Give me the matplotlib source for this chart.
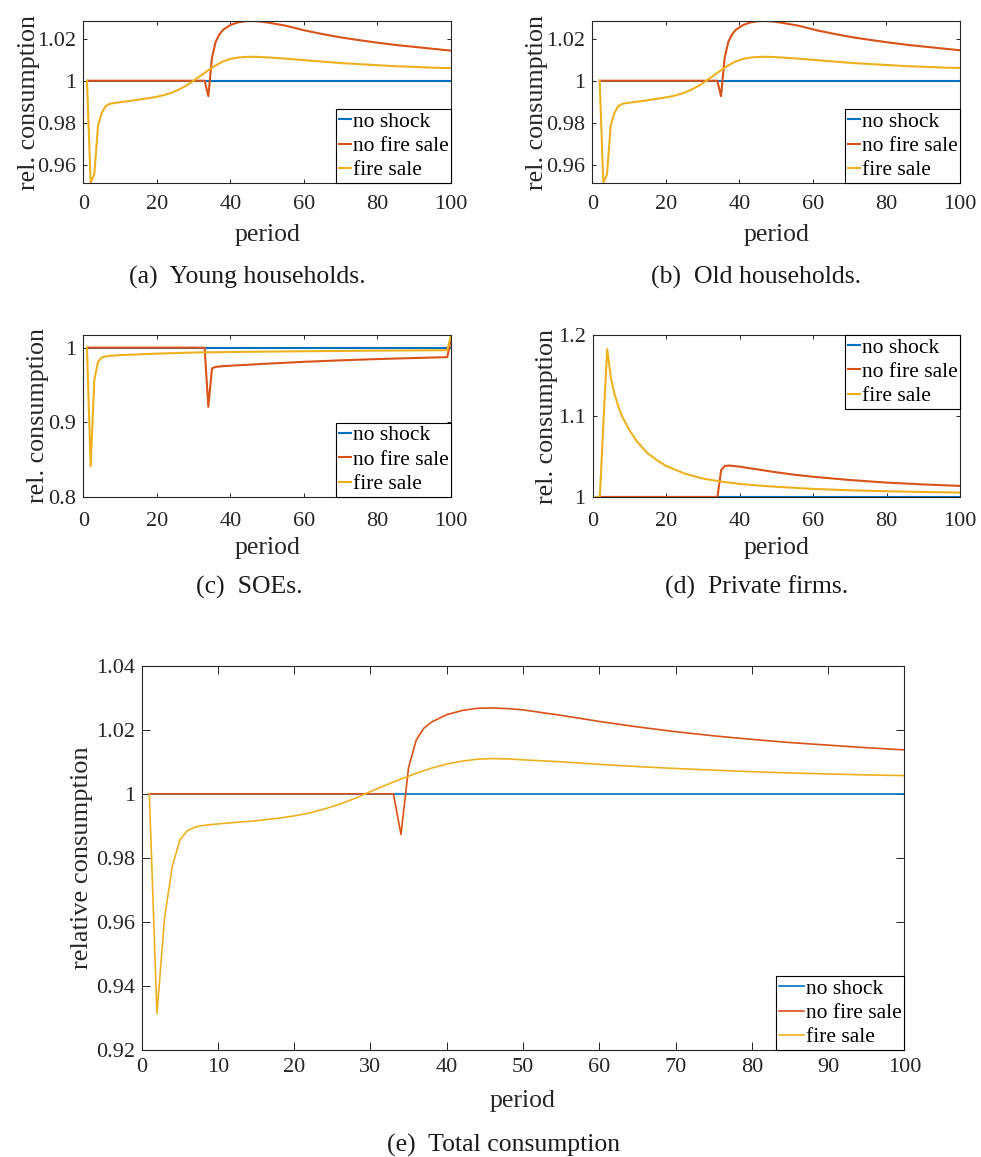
import matplotlib
matplotlib.use("Agg")
import matplotlib.pyplot as plt

W, H, DPI = 981, 1157, 100

BLUE = "#0072BD"
RED = "#D95319"
YELLOW = "#EDB120"
INK = "#262626"
SERIF = ["Liberation Serif", "DejaVu Serif"]

series_labels = ["no shock", "no fire sale", "fire sale"]

# ---- (a) young households ----
young_base_period = [1, 100]
young_base = [1.0, 1.0]
young_nfs_period = [1, 33, 34, 35, 36, 37, 38, 40, 42, 44, 46, 48, 50, 55, 60, 65, 70, 75, 80, 85, 90, 95, 100]
young_nfs = [1.0, 1.0, 0.9927, 1.0110, 1.0185, 1.0220, 1.0242, 1.0265, 1.0277, 1.0283, 1.0284, 1.0282, 1.0277,
             1.0262, 1.0240, 1.0222, 1.0206, 1.0193, 1.0181, 1.0170, 1.0161, 1.0152, 1.0143]
young_fs_period = [1, 2, 3, 4, 5, 6, 7, 8, 10, 12, 15, 18, 20, 22, 24, 26, 28, 30, 32, 34, 36, 38, 40, 42, 44, 46,
                   48, 50, 55, 60, 65, 70, 75, 80, 85, 90, 95, 100]
young_fs = [1.0, 0.9514, 0.9556, 0.9787, 0.9846, 0.9878, 0.9889, 0.9893, 0.9898, 0.9902, 0.9910, 0.9918, 0.9924,
            0.9932, 0.9943, 0.9958, 0.9977, 1.0000, 1.0025, 1.0050, 1.0073, 1.0092, 1.0104, 1.0110, 1.0113, 1.0114,
            1.0113, 1.0111, 1.0105, 1.0098, 1.0091, 1.0084, 1.0079, 1.0074, 1.0069, 1.0066, 1.0062, 1.0060]

# ---- (b) old households ----
old_base_period = [2, 100]
old_base = [1.0, 1.0]
old_nfs_period = [2, 34, 35, 36, 37, 38, 39, 41, 43, 45, 47, 49, 51, 56, 61, 66, 71, 76, 81, 86, 91, 96, 100]
old_nfs = [1.0, 1.0, 0.9927, 1.0110, 1.0185, 1.0220, 1.0242, 1.0265, 1.0277, 1.0283, 1.0284, 1.0282, 1.0277,
           1.0262, 1.0240, 1.0222, 1.0206, 1.0193, 1.0181, 1.0170, 1.0161, 1.0152, 1.0145]
old_fs_period = [2, 3, 4, 5, 6, 7, 8, 9, 11, 13, 16, 19, 21, 23, 25, 27, 29, 31, 33, 35, 37, 39, 41, 43, 45, 47,
                 49, 51, 56, 61, 66, 71, 76, 81, 86, 91, 96, 100]
old_fs = [1.0, 0.9514, 0.9556, 0.9787, 0.9846, 0.9878, 0.9889, 0.9893, 0.9898, 0.9902, 0.9910, 0.9918, 0.9924,
          0.9932, 0.9943, 0.9958, 0.9977, 1.0000, 1.0025, 1.0050, 1.0073, 1.0092, 1.0104, 1.0110, 1.0113, 1.0114,
          1.0113, 1.0111, 1.0105, 1.0098, 1.0091, 1.0084, 1.0079, 1.0074, 1.0069, 1.0066, 1.0062, 1.0061]

# ---- (c) SOEs ----
soe_base_period = [1, 100]
soe_base = [1.0, 1.0]
soe_nfs_period = [1, 33, 34, 35, 36, 38, 40, 50, 60, 70, 80, 90, 99, 100]
soe_nfs = [1.0, 1.0, 0.9207, 0.9722, 0.9742, 0.9752, 0.9758, 0.9785, 0.9810, 0.9830, 0.9847, 0.9861, 0.9873, 1.0120]
soe_fs_period = [1, 2, 3, 4, 5, 6, 7, 8, 10, 15, 20, 30, 40, 50, 60, 70, 80, 90, 99, 100]
soe_fs = [1.0, 0.8410, 0.9570, 0.9810, 0.9866, 0.9882, 0.9889, 0.9893, 0.9900, 0.9910, 0.9920, 0.9935, 0.9942,
          0.9947, 0.9952, 0.9956, 0.9960, 0.9963, 0.9966, 1.0170]

# ---- (d) private firms ----
pf_base_period = [1, 100]
pf_base = [1.0, 1.0]
pf_nfs_period = [1, 34, 35, 36, 37, 38, 40, 45, 50, 55, 60, 70, 80, 90, 100]
pf_nfs = [1.0, 1.0, 1.0330, 1.0383, 1.0388, 1.0385, 1.0375, 1.0340, 1.0305, 1.0275, 1.0250, 1.0210, 1.0178,
          1.0155, 1.0137]
pf_fs_period = [1, 2, 3, 4, 5, 6, 7, 8, 10, 12, 15, 18, 20, 25, 30, 35, 40, 45, 50, 60, 70, 80, 90, 100]
pf_fs = [1.0, 1.0, 1.0950, 1.1826, 1.1470, 1.1270, 1.1120, 1.1000, 1.0830, 1.0690, 1.0540, 1.0440, 1.0385,
         1.0290, 1.0228, 1.0190, 1.0162, 1.0142, 1.0126, 1.0100, 1.0083, 1.0071, 1.0062, 1.0055]

# ---- (e) total consumption ----
tot_base_period = [1, 100]
tot_base = [1.0, 1.0]
tot_nfs_period = [1, 33, 34, 35, 36, 37, 38, 40, 42, 44, 46, 48, 50, 55, 60, 65, 70, 75, 80, 85, 90, 95, 100]
tot_nfs = [1.0, 1.0, 0.9873, 1.0083, 1.0168, 1.0205, 1.0224, 1.0247, 1.0260, 1.0267, 1.0268, 1.0266, 1.0262,
           1.0245, 1.0226, 1.0209, 1.0194, 1.0181, 1.0170, 1.0160, 1.0152, 1.0144, 1.0137]
tot_fs_period = [1, 2, 3, 4, 5, 6, 7, 8, 10, 12, 15, 18, 20, 22, 24, 26, 28, 30, 32, 34, 36, 38, 40, 42, 44, 46,
                 48, 50, 55, 60, 65, 70, 75, 80, 85, 90, 95, 100]
tot_fs = [1.0, 0.9314, 0.9612, 0.9772, 0.9856, 0.9885, 0.9896, 0.9901, 0.9906, 0.9910, 0.9916, 0.9924, 0.9931,
          0.9940, 0.9953, 0.9968, 0.9986, 1.0007, 1.0027, 1.0046, 1.0064, 1.0080, 1.0093, 1.0102, 1.0108, 1.0110,
          1.0109, 1.0106, 1.0100, 1.0092, 1.0085, 1.0079, 1.0074, 1.0069, 1.0065, 1.0062, 1.0059, 1.0057]

ticks_small_x = [0, 20, 40, 60, 80, 100]
ticks_total_x = [0, 10, 20, 30, 40, 50, 60, 70, 80, 90, 100]
hh_yticks = [0.96, 0.98, 1.0, 1.02]
hh_ylabels = ["0.96", "0.98", "1", "1.02"]
soe_yticks = [0.8, 0.9, 1.0]
soe_ylabels = ["0.8", "0.9", "1"]
pf_yticks = [1.0, 1.1, 1.2]
pf_ylabels = ["1", "1.1", "1.2"]
tot_yticks = [0.92, 0.94, 0.96, 0.98, 1.0, 1.02, 1.04]
tot_ylabels = ["0.92", "0.94", "0.96", "0.98", "1", "1.02", "1.04"]

captions = ["(a)  Young households.", "(b)  Old households.", "(c)  SOEs.",
            "(d)  Private firms.", "(e)  Total consumption"]

plt.rcParams["font.family"] = SERIF
fig = plt.figure(figsize=(W / DPI, H / DPI), dpi=DPI)


def add_axes_px(left, right, top, bottom):
    return fig.add_axes([left / W, 1 - bottom / H, (right - left) / W, (bottom - top) / H])


def draw_panel(ax, data, ylim, xticks, yticks, ylabels, ylabel, ylabel_x, xlabel_y,
               legend_loc, lw, tick_len, xpad, ypad, ylabel_size=18.7, handle_len=0.55):
    colors = [BLUE, RED, YELLOW]
    for (px, py), c, lab in zip(data, colors, series_labels):
        ax.plot(px, py, color=c, lw=lw, label=lab)
    ax.set_xlim(0, 100)
    ax.set_ylim(*ylim)
    ax.set_xticks(xticks)
    ax.set_xticklabels([str(t) for t in xticks])
    ax.set_yticks(yticks)
    ax.set_yticklabels(ylabels)
    ax.tick_params(direction="in", top=True, right=True, length=tick_len, width=0.7,
                   color=INK, labelcolor=INK, labelsize=16)
    ax.tick_params(axis="x", pad=xpad)
    ax.tick_params(axis="y", pad=ypad)
    for s in ax.spines.values():
        s.set_color(INK)
        s.set_linewidth(0.8)
    ax.set_ylabel(ylabel, fontsize=ylabel_size, color=INK)
    ax.set_xlabel("period", fontsize=18.5, color=INK)
    ax.yaxis.set_label_coords(ylabel_x, 0.5)
    ax.xaxis.set_label_coords(0.5, xlabel_y)
    ax.xaxis.label.set_va("top")
    leg = ax.legend(loc=legend_loc, borderaxespad=0, fancybox=False, framealpha=1,
                    edgecolor="black", fontsize=15.5, handlelength=handle_len, handletextpad=0.1,
                    borderpad=0.12, labelspacing=0.2)
    leg.get_frame().set_linewidth(0.8)
    for t in leg.get_texts():
        t.set_color("black")


ax_a = add_axes_px(83.3, 451, 21, 183)
draw_panel(ax_a, [(young_base_period, young_base), (young_nfs_period, young_nfs), (young_fs_period, young_fs)],
           (0.9514, 1.0284), ticks_small_x, hh_yticks, hh_ylabels, "rel. consumption",
           -0.119, -0.25, "lower right", 1.5, 3, 8.5, 5)

ax_b = add_axes_px(592.3, 960, 21, 183)
draw_panel(ax_b, [(old_base_period, old_base), (old_nfs_period, old_nfs), (old_fs_period, old_fs)],
           (0.9514, 1.0284), ticks_small_x, hh_yticks, hh_ylabels, "rel. consumption",
           -0.121, -0.25, "lower right", 1.5, 3, 8.5, 5)

ax_c = add_axes_px(83.3, 451, 335, 496.7)
draw_panel(ax_c, [(soe_base_period, soe_base), (soe_nfs_period, soe_nfs), (soe_fs_period, soe_fs)],
           (0.8, 1.017), ticks_small_x, soe_yticks, soe_ylabels, "rel. consumption",
           -0.093, -0.247, "lower right", 1.5, 3, 10.7, 5)

ax_d = add_axes_px(592.5, 960, 335, 497)
draw_panel(ax_d, [(pf_base_period, pf_base), (pf_nfs_period, pf_nfs), (pf_fs_period, pf_fs)],
           (1.0, 1.2), ticks_small_x, pf_yticks, pf_ylabels, "rel. consumption",
           -0.095, -0.247, "upper right", 1.5, 3, 10.7, 5)

ax_e = add_axes_px(141.7, 904.3, 665.7, 1050)
draw_panel(ax_e, [(tot_base_period, tot_base), (tot_nfs_period, tot_nfs), (tot_fs_period, tot_fs)],
           (0.92, 1.04), ticks_total_x, tot_yticks, tot_ylabels, "relative consumption",
           -0.0642, -0.104, "lower right", 1.2, 5.5, 5.5, 5, ylabel_size=19, handle_len=1.15)

caption_pos = [(247, 277), (756, 277), (249, 587), (757, 587), (504, 1145)]
for text, (cx, cy) in zip(captions, caption_pos):
    fig.text(cx / W, 1 - cy / H, text, ha="center", va="center", fontsize=18.5, color="#1a1a1a")

fig.savefig("out.png", dpi=DPI)
